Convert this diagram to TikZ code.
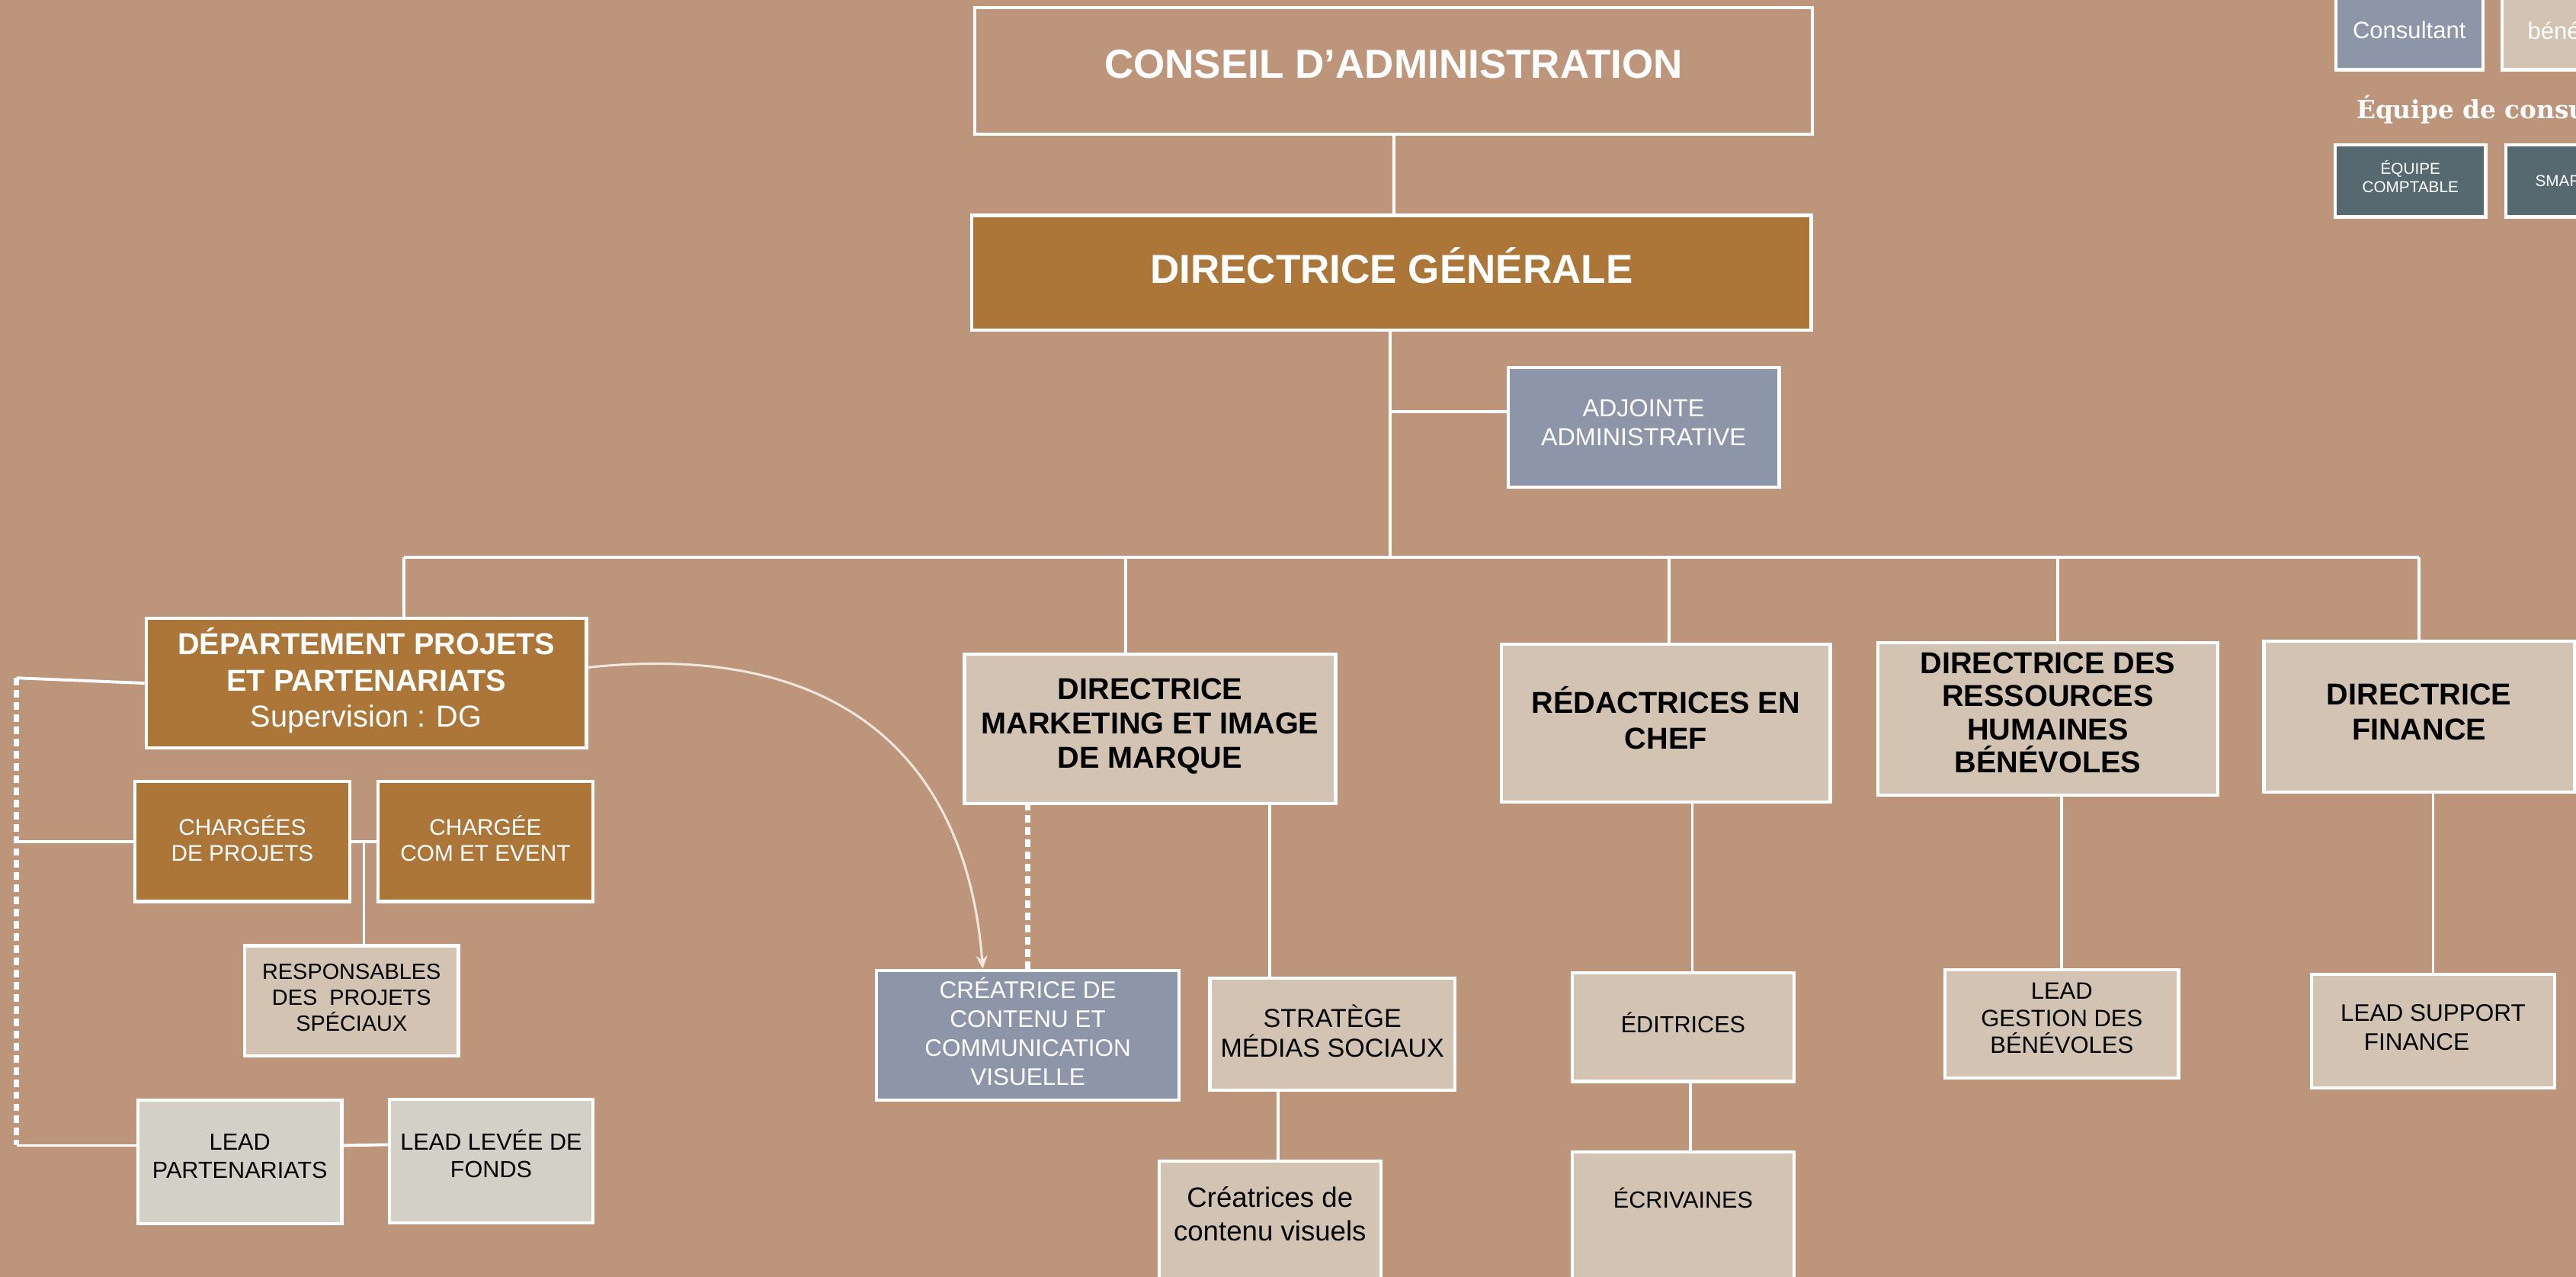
\documentclass[tikz,border=0pt]{standalone}
\usepackage{fontspec}
\setmainfont{Liberation Sans}
\newfontfamily\legendefont{DejaVu Serif}
\usetikzlibrary{arrows.meta,calc}

\definecolor{fond}{HTML}{BD957A}
\definecolor{brun}{HTML}{AC7639}
\definecolor{ardoise}{HTML}{8D95A8}
\definecolor{sable}{HTML}{D3C3B3}
\definecolor{gris}{HTML}{D3D0C8}
\definecolor{petrole}{HTML}{566970}
\definecolor{creme}{HTML}{F1E7DF}

\begin{document}
\begin{tikzpicture}[x=0.5pt,y=-0.5pt,
	boite/.style={draw=white,line width=1pt,align=center,inner sep=0pt},
	brune/.style={boite,fill=brun,text=white},
	bleue/.style={boite,fill=ardoise,text=white},
	sablee/.style={boite,fill=sable,text=black},
	grise/.style={boite,fill=gris,text=black},
	petrolee/.style={boite,fill=petrole,text=white},
	taille/.style 2 args={minimum width=#1*0.5pt,minimum height=#2*0.5pt},
	fs/.style 2 args={font=\fontsize{#1}{#2}\selectfont},
	fsb/.style 2 args={font=\bfseries\fontsize{#1}{#2}\selectfont},
	lien/.style={draw=white,line width=0.9pt},
	pointille/.style={draw=white,line width=1.6pt,dash pattern=on 2.3pt off 1.4pt},
	fleche/.style={draw=creme,line width=0.7pt,-{Stealth[length=4pt,width=3.5pt]}}]

\useasboundingbox (0,0) rectangle (1568,777);
\fill[fond] (0,0) rectangle (1568,777);
\clip (0,0) rectangle (1568,777);

% direction
\node[boite,text=white,taille={510}{77},fsb={12.3}{14},text depth=4.2pt] (conseil) at (848.3,43.2) {CONSEIL D’ADMINISTRATION};
\node[brune,taille={511}{70},fsb={12.3}{14},text depth=4.5pt] (dg) at (847,166) {DIRECTRICE GÉNÉRALE};
\node[bleue,taille={165}{73},fs={7.5}{8.8},text depth=2.7pt] (adjointe) at (1000.4,260) {ADJOINTE\\ADMINISTRATIVE};

% projets et partenariats
\node[brune,taille={268}{79},fsb={9.2}{11.1},text depth=3.5pt] (dept) at (223,415.7) {DÉPARTEMENT PROJETS\\ET PARTENARIATS\\{\mdseries Supervision : DG}};
\node[brune,taille={131}{73},fs={6.9}{8},text depth=2pt] (chproj) at (147.5,512) {CHARGÉES\\DE PROJETS};
\node[brune,taille={131}{73},fs={6.9}{8},text depth=2pt] (chcom) at (295.5,512) {CHARGÉE\\COM ET EVENT};
\node[sablee,taille={130}{67},fs={6.7}{7.8},text depth=2pt] (resp) at (214,609) {RESPONSABLES\\DES\ \ PROJETS\\SPÉCIAUX};
\node[grise,taille={124}{75},fs={7.1}{8.5},text depth=3.5pt] (leadpart) at (146,707) {LEAD\\PARTENARIATS};
\node[grise,taille={124}{75},fs={7.1}{8.5},text depth=4.5pt] (leadfonds) at (299,706.5) {LEAD LEVÉE DE\\FONDS};

% marketing
\node[sablee,taille={226}{91},fsb={9.2}{10.5},text depth=3.5pt] (marketing) at (700,443.5) {DIRECTRICE\\MARKETING ET IMAGE\\DE MARQUE};
\node[bleue,taille={184}{79},fs={7.3}{8.85},text depth=2.5pt] (createur) at (625.6,630) {CRÉATRICE DE\\CONTENU ET\\COMMUNICATION\\VISUELLE};
\node[sablee,taille={149}{68},fs={7.9}{9.1},text depth=2pt] (strategie) at (811,629.3) {STRATÈGE\\MÉDIAS SOCIAUX};
\node[sablee,taille={135}{74},fs={8.5}{10.1},text depth=5pt] (visuels) at (773,743.5) {Créatrices de\\contenu visuels};

% redaction
\node[sablee,taille={200}{96},fsb={9.2}{10.8},text depth=3.3pt] (redac) at (1014,440) {RÉDACTRICES EN\\CHEF};
\node[sablee,taille={135}{66},fs={7.1}{8.5},text depth=3pt] (editrices) at (1024.5,625) {ÉDITRICES};
\node[sablee,taille={135}{79},fs={7.1}{8.5},text depth=11.5pt] (ecrivaines) at (1024.5,740.5) {ÉCRIVAINES};

% ressources humaines et finance
\node[sablee,taille={207}{93},fsb={9.2}{10.1},text depth=3.9pt] (rh) at (1246.5,437.5) {DIRECTRICE DES\\RESSOURCES\\HUMAINES\\BÉNÉVOLES};
\node[sablee,taille={142}{66},fs={7.2}{8.25},text depth=3.5pt] (leadbenev) at (1255,623) {LEAD\\GESTION DES\\BÉNÉVOLES};
\node[sablee,taille={189}{92},fsb={9.2}{10.7},text depth=3pt] (finance) at (1472.5,436) {DIRECTRICE\\FINANCE};
\node[sablee,taille={148}{69},fs={7.3}{8.9},text depth=2.5pt] (leadsupport) at (1481,627.5) {LEAD SUPPORT\\FINANCE\hspace*{10pt}};

% legende
\node[bleue,taille={89.5}{48},fs={7.2}{8.5}] (consultant) at (1466.5,18.5) {Consultant};
\node[sablee,text=white,taille={89.5}{48},fs={7.2}{8.5}] (benevole) at (1567.8,18.5) {bénévole};
\node[anchor=base west,inner sep=0pt,text=white,font=\legendefont\bfseries\fontsize{7.6}{8.6}\selectfont] (equipe) at (1434,72) {Équipe de consultants};
\node[petrolee,taille={91.5}{44},fs={4.8}{5.5},text depth=2.5pt] (comptable) at (1467.2,110) {ÉQUIPE\\COMPTABLE};
\node[petrolee,minimum height=22pt,text width=27.75pt,inner xsep=9pt,align=left,fs={4.8}{5.5}] (smar) at (1571,110) {SMAR};

% liens de la direction
\draw[lien] (conseil.south) -- (conseil.south |- dg.north);
\coordinate (tronc) at (846,339);
\draw[lien] (dg.south -| tronc) -- (tronc);
\coordinate (adj) at ([yshift=4.7pt]adjointe.west);
\draw[lien] (adj) -- (adj -| tronc);
\foreach \n/\x in {dept/246,marketing/685,redac/1016,rh/1252.4,finance/1472.5}{
	\coordinate (b-\n) at (\x,339);
	\draw[lien] (b-\n) -- (b-\n |- \n.north);
}
\draw[lien] (b-dept) -- (b-finance);

% liens projets
\coordinate (gauche) at (10,412.5);
\coordinate (lp) at ([yshift=5pt]leadpart.west);
\draw[lien] (dept.west) -- (gauche);
\draw[pointille] (gauche) -- (gauche |- lp);
\draw[lien] (chproj.west) -- (chproj.west -| gauche);
\draw[lien] (lp) -- (lp -| gauche);
\draw[lien] (chproj.east) -- (chcom.west);
\coordinate (jonction) at ($(chproj.east)!0.5!(chcom.west)$);
\draw[lien] (jonction) -- (jonction |- resp.north);
\draw[lien] ([yshift=5pt]leadpart.east) -- ([yshift=5pt]leadfonds.west);

% liens marketing
\draw[pointille] (createur.north) -- (createur.north |- marketing.south);
\coordinate (st) at ([xshift=-19pt]strategie.north);
\draw[lien] (st) -- (st |- marketing.south);
\coordinate (vi) at ([xshift=2.5pt]visuels.north);
\draw[lien] (vi) -- (vi |- strategie.south);
\draw[fleche] ([yshift=4.8pt]dept.east) .. controls (530,388) and (590,480) .. ([xshift=-13.7pt]createur.north);

% liens redaction, rh, finance
\coordinate (ed) at ([xshift=2.8pt]editrices.north);
\draw[lien] (ed) -- (ed |- redac.south);
\coordinate (ec) at ([xshift=2.3pt]ecrivaines.north);
\draw[lien] (ec) -- (ec |- editrices.south);
\draw[lien] (leadbenev.north) -- (leadbenev.north |- rh.south);
\draw[lien] (leadsupport.north) -- (leadsupport.north |- finance.south);
\end{tikzpicture}
\end{document}
